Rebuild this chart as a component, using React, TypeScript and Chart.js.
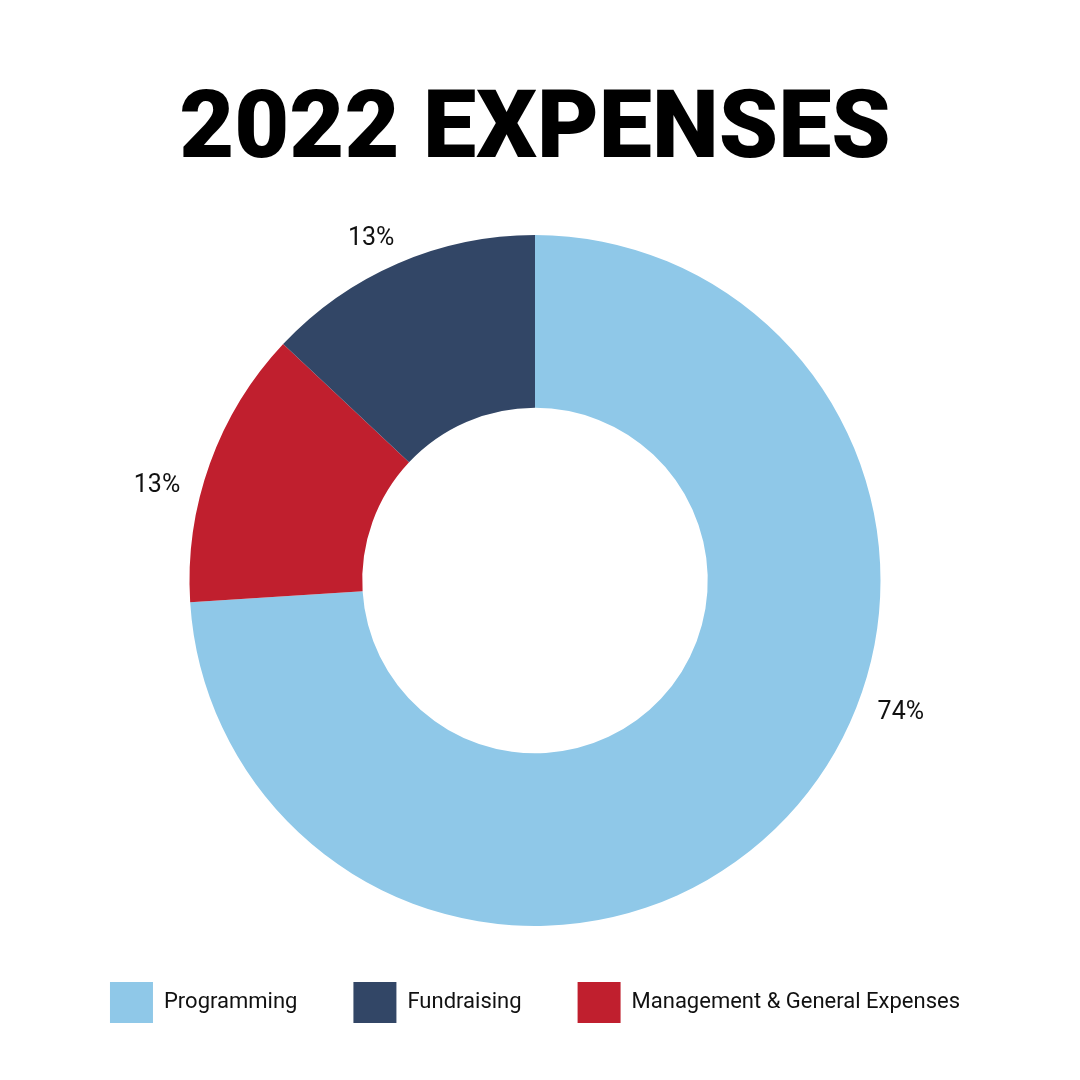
import React, { useEffect, useRef } from "react";
import { Chart, registerables } from "chart.js";

Chart.register(...registerables);

// Data (clockwise from 12 o'clock)
const categories = ["Programming", "Management & General Expenses", "Fundraising"];
const shares = [74, 13, 13];
const sliceColors = ["#8FC8E8", "#C01F2E", "#324666"];
const legendOrder = ["Programming", "Fundraising", "Management & General Expenses"];
const chartTitle = "2022 EXPENSES";

const pctLabels = {
  id: "pctLabels",
  afterDatasetsDraw(chart: any, _args: any, opts: any) {
    const meta = chart.getDatasetMeta(0);
    const values = chart.data.datasets[0].data as number[];
    const ctx = chart.ctx;
    ctx.save();
    ctx.font = `${opts.size}px Roboto`;
    ctx.fillStyle = opts.color;
    ctx.textAlign = "center";
    ctx.textBaseline = "middle";
    meta.data.forEach((arc: any, i: number) => {
      const p = arc.getProps(["x", "y", "startAngle", "endAngle", "outerRadius"], true);
      const f = opts.fractions[i] ?? 0.5;
      const a = p.startAngle + (p.endAngle - p.startAngle) * f;
      const text = `${values[i]}%`;
      const w = ctx.measureText(text).width;
      const h = opts.size * 0.72;
      const r = p.outerRadius + opts.gap;
      const cx = p.x + Math.cos(a) * r + Math.cos(a) * (w / 2);
      const cy = p.y + Math.sin(a) * r + Math.sin(a) * (h / 2);
      ctx.fillText(text, cx, cy);
    });
    ctx.restore();
  },
};

export default function App() {
  const ref = useRef<HTMLCanvasElement | null>(null);
  useEffect(() => {
    if (!ref.current) return;
    const chart = new Chart(ref.current, {
      type: "doughnut",
      data: {
        labels: categories,
        datasets: [
          {
            data: shares,
            backgroundColor: sliceColors,
            borderWidth: 0,
          },
        ],
      },
      options: {
        responsive: false,
        animation: false,
        cutout: "50%",
        layout: { padding: { top: 0, left: 0, right: 10, bottom: 47 } },
        plugins: {
          title: {
            display: true,
            text: chartTitle,
            color: "#000",
            font: { family: "Roboto", size: 95, weight: "900", lineHeight: 1 },
            padding: { top: 86, bottom: 54 },
          },
          legend: {
            display: true,
            position: "bottom",
            labels: {
              boxWidth: 43,
              boxHeight: 41,
              padding: 56,
              color: "#111",
              font: { family: "Roboto", size: 22 },
              sort: (a: any, b: any) => legendOrder.indexOf(a.text) - legendOrder.indexOf(b.text),
            },
          },
          tooltip: { enabled: false },
          pctLabels: { size: 25, color: "#111", gap: 22, fractions: [0.415, 0.39, 0.47] },
        } as any,
      },
      plugins: [pctLabels],
    });
    return () => chart.destroy();
  }, []);
  return (
    <canvas
      ref={ref}
      width={1080}
      height={1080}
      style={{ position: "absolute", left: 0, top: 0, display: "block", background: "#fff" }}
    />
  );
}
